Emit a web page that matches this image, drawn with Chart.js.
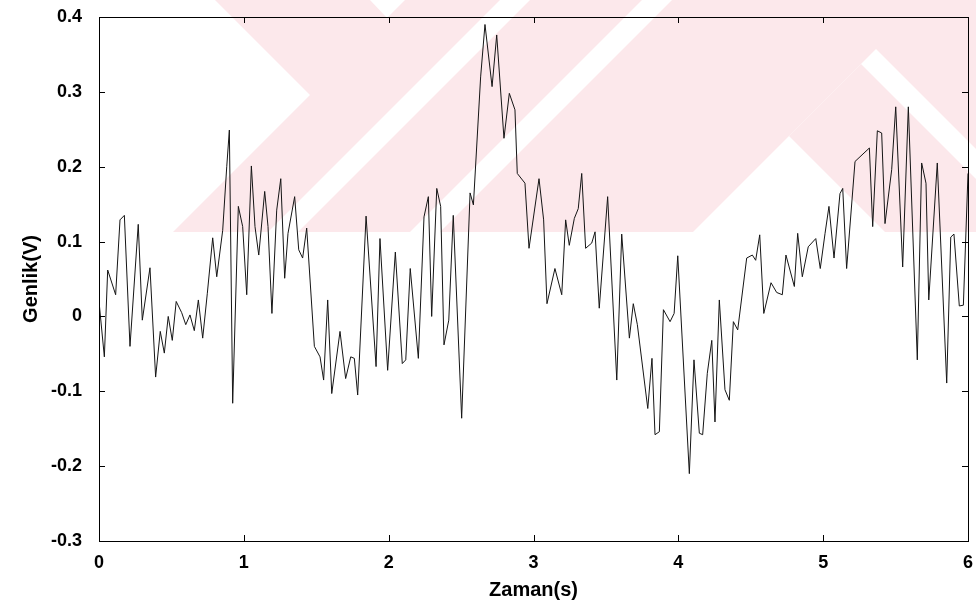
<!DOCTYPE html>
<html>
<head>
<meta charset="utf-8">
<script src="https://cdn.jsdelivr.net/npm/chart.js@4.4.1/dist/chart.umd.min.js"></script>
<style>
  html, body { margin: 0; padding: 0; background: #fff; }
  canvas { display: block; }
</style>
</head>
<body>
<canvas id="signalChart" width="976" height="612"></canvas>
<script>
// time (s) and amplitude (V)
const timeValues = [
  0.000, 0.037, 0.060, 0.115, 0.145, 0.175, 0.214, 0.271, 0.299, 0.352,
  0.391, 0.423, 0.451, 0.478, 0.506, 0.533, 0.571, 0.599, 0.628, 0.658,
  0.686, 0.716, 0.748, 0.785, 0.813, 0.854, 0.882, 0.900, 0.923, 0.962,
  0.992, 1.020, 1.052, 1.077, 1.103, 1.144, 1.167, 1.194, 1.227, 1.255,
  1.282, 1.305, 1.351, 1.379, 1.406, 1.434, 1.487, 1.526, 1.551, 1.579,
  1.607, 1.664, 1.703, 1.738, 1.763, 1.786, 1.844, 1.913, 1.940, 1.993,
  2.046, 2.094, 2.118, 2.149, 2.205, 2.244, 2.274, 2.297, 2.332, 2.359,
  2.382, 2.415, 2.446, 2.504, 2.562, 2.585, 2.635, 2.665, 2.714, 2.746,
  2.796, 2.833, 2.872, 2.888, 2.941, 2.969, 3.038, 3.070, 3.093, 3.148,
  3.195, 3.222, 3.247, 3.282, 3.309, 3.333, 3.360, 3.402, 3.425, 3.454,
  3.512, 3.575, 3.609, 3.662, 3.689, 3.717, 3.789, 3.818, 3.839, 3.869,
  3.897, 3.943, 3.971, 3.996, 4.076, 4.108, 4.145, 4.168, 4.200, 4.231,
  4.253, 4.283, 4.322, 4.352, 4.380, 4.410, 4.472, 4.511, 4.534, 4.562,
  4.590, 4.640, 4.679, 4.718, 4.743, 4.801, 4.824, 4.856, 4.897, 4.949,
  4.980, 5.013, 5.040, 5.075, 5.116, 5.135, 5.162, 5.220, 5.319, 5.342,
  5.374, 5.404, 5.427, 5.473, 5.501, 5.549, 5.588, 5.650, 5.680, 5.710,
  5.729, 5.788, 5.853, 5.881, 5.903, 5.940, 5.968, 6.000
];
const amplitudeValues = [
  0.020, -0.054, 0.062, 0.029, 0.129, 0.135, -0.040, 0.123, -0.005, 0.065,
  -0.081, -0.020, -0.049, 0.000, -0.032, 0.020, 0.005, -0.011, 0.002, -0.019,
  0.022, -0.029, 0.031, 0.105, 0.053, 0.115, 0.200, 0.249, -0.116, 0.147,
  0.120, 0.029, 0.201, 0.120, 0.082, 0.167, 0.120, 0.004, 0.142, 0.184,
  0.051, 0.111, 0.160, 0.089, 0.078, 0.118, -0.040, -0.054, -0.085, 0.022,
  -0.103, -0.020, -0.083, -0.054, -0.056, -0.105, 0.134, -0.067, 0.104, -0.072,
  0.086, -0.063, -0.058, 0.064, -0.056, 0.133, 0.160, 0.000, 0.171, 0.147,
  -0.038, -0.005, 0.135, -0.136, 0.165, 0.149, 0.320, 0.390, 0.307, 0.376,
  0.238, 0.298, 0.276, 0.191, 0.178, 0.091, 0.184, 0.129, 0.017, 0.064,
  0.029, 0.129, 0.095, 0.131, 0.144, 0.191, 0.091, 0.098, 0.113, 0.011,
  0.160, -0.085, 0.110, -0.029, 0.017, -0.011, -0.123, -0.056, -0.158, -0.154,
  0.009, -0.007, 0.004, 0.081, -0.210, -0.058, -0.156, -0.158, -0.076, -0.032,
  -0.141, 0.022, -0.098, -0.112, -0.007, -0.018, 0.078, 0.082, 0.075, 0.109,
  0.004, 0.045, 0.032, 0.029, 0.082, 0.040, 0.111, 0.053, 0.093, 0.104,
  0.064, 0.111, 0.147, 0.078, 0.164, 0.171, 0.064, 0.207, 0.225, 0.120,
  0.248, 0.245, 0.124, 0.196, 0.280, 0.066, 0.280, -0.058, 0.205, 0.178,
  0.022, 0.205, -0.089, 0.106, 0.110, 0.014, 0.015, 0.191
];
const xTicks = [0, 1, 2, 3, 4, 5, 6];
const yTicks = [-0.3, -0.2, -0.1, 0, 0.1, 0.2, 0.3, 0.4];

const FONT = '"Liberation Sans", Arial, Helvetica, sans-serif';

// faint pink thesis watermark behind the plot (scan background, not data)
const watermark = {
  id: 'watermark',
  beforeDraw(chart) {
    const c = chart.ctx;
    c.save();
    c.fillStyle = '#fff';
    c.fillRect(0, 0, chart.width, chart.height);
    c.beginPath();
    c.rect(0, 0, chart.width, 232);
    c.clip();
    const poly = (pts, col) => {
      c.fillStyle = col;
      c.beginPath();
      pts.forEach((p, i) => i ? c.lineTo(p[0], p[1]) : c.moveTo(p[0], p[1]));
      c.closePath();
      c.fill();
    };
    const pink = '#fce8eb';
    poly([[173, 232], [310, 95], [215, 0], [370, 0], [387, 18], [405, 0], [976, 0], [976, 232]], pink);
    poly([[500, 0], [530, 0], [298, 232], [268, 232]], '#fff');
    poly([[642, 0], [672, 0], [440, 232], [410, 232]], '#fff');
    poly([[693, 232], [876, 49], [976, 149], [976, 232]], '#fff');
    poly([[861, 64], [789, 136], [885, 232], [976, 232], [976, 179]], pink);
    c.restore();
  }
};

// MATLAB-style box with inward ticks on all four sides
const frame = {
  id: 'frame',
  afterDraw(chart) {
    const {ctx, chartArea: a, scales} = chart;
    const len = 6;
    ctx.save();
    ctx.strokeStyle = '#000';
    ctx.lineWidth = 1;
    ctx.strokeRect(a.left + 0.5, a.top + 0.5, a.right - a.left, a.bottom - a.top);
    ctx.beginPath();
    xTicks.forEach(v => {
      const x = Math.round(scales.x.getPixelForValue(v)) + 0.5;
      ctx.moveTo(x, a.bottom); ctx.lineTo(x, a.bottom - len);
      ctx.moveTo(x, a.top); ctx.lineTo(x, a.top + len);
    });
    yTicks.forEach(v => {
      const y = Math.round(scales.y.getPixelForValue(v)) + 0.5;
      ctx.moveTo(a.left, y); ctx.lineTo(a.left + len, y);
      ctx.moveTo(a.right, y); ctx.lineTo(a.right - len, y);
    });
    ctx.stroke();
    ctx.restore();
  }
};

const ctx = document.getElementById('signalChart').getContext('2d');

new Chart(ctx, {
  type: 'line',
  data: {
    datasets: [{
      data: timeValues.map((t, i) => ({x: t, y: amplitudeValues[i]})),
      borderColor: '#151515',
      borderWidth: 1,
      pointRadius: 0,
      tension: 0,
      fill: false
    }]
  },
  plugins: [watermark, frame],
  options: {
    responsive: false,
    animation: false,
    devicePixelRatio: 1,
    layout: { padding: { top: 17, right: 8, left: 0, bottom: 0 } },
    plugins: { legend: { display: false }, tooltip: { enabled: false } },
    scales: {
      x: {
        type: 'linear',
        min: 0,
        max: 6,
        afterBuildTicks: s => { s.ticks = xTicks.map(v => ({value: v})); },
        afterFit: s => { s.height = 71; s.paddingLeft = 0; s.paddingRight = 0; },
        grid: { display: false, drawTicks: false },
        border: { display: false },
        ticks: {
          color: '#000',
          padding: 11,
          maxRotation: 0,
          font: { family: FONT, size: 18, weight: 'bold' }
        },
        title: {
          display: true,
          text: 'Zaman(s)',
          color: '#000',
          padding: { top: 10, bottom: 10 },
          font: { family: FONT, size: 20, weight: 'bold' }
        }
      },
      y: {
        min: -0.3,
        max: 0.4,
        afterBuildTicks: s => { s.ticks = yTicks.map(v => ({value: v})); },
        afterFit: s => { s.width = 99; s.paddingTop = 0; s.paddingBottom = 0; },
        grid: { display: false, drawTicks: false },
        border: { display: false },
        ticks: {
          color: '#000',
          padding: 17,
          font: { family: FONT, size: 18, weight: 'bold' },
          callback: v => v === 0 ? '0' : v.toFixed(1)
        },
        title: {
          display: true,
          text: 'Genlik(V)',
          color: '#000',
          padding: { top: 19, bottom: 19 },
          font: { family: FONT, size: 20, weight: 'bold' }
        }
      }
    }
  }
});
</script>
</body>
</html>
